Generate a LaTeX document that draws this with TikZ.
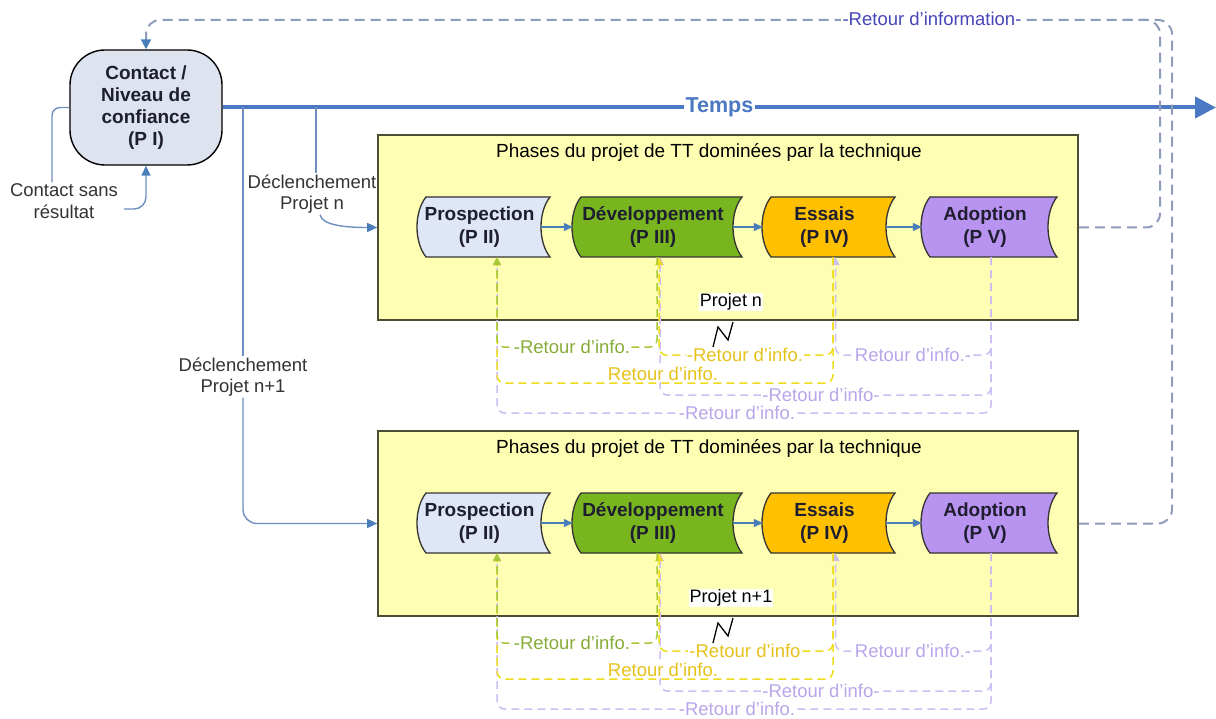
\documentclass[tikz,border=0pt]{standalone}
\usepackage{fontspec}
\setmainfont{Liberation Sans}
\usetikzlibrary{arrows.meta,calc}
\definecolor{tempsblue}{HTML}{4A78C2}
\definecolor{trigblue}{HTML}{6F8FC0}
\definecolor{arrowblue}{HTML}{4A7EBB}
\definecolor{contactfill}{HTML}{DEE3F0}
\definecolor{boxfill}{HTML}{FFFFB3}
\definecolor{boxborder}{HTML}{4D4D33}
\definecolor{prosfill}{HTML}{DFE6F5}
\definecolor{devfill}{HTML}{79B51F}
\definecolor{essfill}{HTML}{FFC000}
\definecolor{adofill}{HTML}{B894F0}
\definecolor{fbgreen}{HTML}{A6C83A}
\definecolor{fbgreentext}{HTML}{86AD3A}
\definecolor{fbyellow}{HTML}{EEDC1E}
\definecolor{fbyellowtext}{HTML}{E6C21A}
\definecolor{fbpurple}{HTML}{CDBDF2}
\definecolor{fbpurpletext}{HTML}{B9A6EA}
\definecolor{loopgray}{HTML}{8E9CBC}
\definecolor{infoblue}{HTML}{4646B8}
\definecolor{phasetextcol}{HTML}{1E1E30}
\definecolor{labelgray}{HTML}{333333}

\tikzset{
  every node/.style={font=\fontsize{18.5}{21.5}\selectfont, inner sep=1pt},
  contactbox/.style={draw=black, line width=1.4pt, fill=contactfill, rounded corners=35pt,
    minimum width=152pt, minimum height=115pt, align=center,
    font=\bfseries\fontsize{19}{22}\selectfont, text=phasetextcol},
  ybox/.style={draw=boxborder, line width=1.6pt, fill=boxfill, minimum width=700pt, minimum height=185pt},
  phaseshape/.style={draw=black!80, line width=1.3pt},
  phasetext/.style={align=center, font=\bfseries\fontsize{19}{23.5}\selectfont, text=phasetextcol},
  flow/.style={draw=arrowblue, line width=1.3pt, -{Triangle[length=9pt,width=8pt]}},
  trig/.style={draw=trigblue, line width=1.4pt},
  trigarrow/.style={trig, -{Triangle[length=10pt,width=9pt,color=arrowblue]}},
  fb/.style={dash pattern=on 8pt off 5pt, line width=1.5pt, rounded corners=8pt,
    -{Triangle[length=8pt,width=8pt]}},
  fblabel/.style={fill=white, inner sep=1pt},
  biglabel/.style={align=center, text=labelgray},
  loopline/.style={draw=loopgray, line width=2pt, dash pattern=on 10pt off 6pt, rounded corners=14pt},
}

\newcommand\phasenode[6]{%
  \filldraw[phaseshape, fill=#5] (#2+8,#4-30) -- (#3,#4-30)
    .. controls (#3-12,#4-15) and (#3-12,#4+15) .. (#3,#4+30) -- (#2+8,#4+30)
    .. controls (#2-4,#4+15) and (#2-4,#4-15) .. (#2+8,#4-30) -- cycle;
  \node[phasetext, minimum width={#3-#2-9}, minimum height=60pt] (#1) at ({(#2+#3-9)/2},#4) {#6};
}

\newcommand\phaseblock[4]{%
\begin{scope}[yshift=#2]
  \node[ybox] (box#1) at (728,227.5) {};
  \node[font=\fontsize{19}{22}\selectfont] (title#1) at (709,152) {Phases du projet de TT dominées par la technique};
  \phasenode{pro#1}{418}{550}{227}{prosfill}{Prospection\\(P II)}
  \phasenode{dev#1}{573}{742}{227}{devfill}{Développement\\(P III)}
  \phasenode{ess#1}{763}{895}{227}{essfill}{Essais\\(P IV)}
  \phasenode{ado#1}{922}{1057}{227}{adofill}{Adoption\\(P V)}
  \draw[flow] (pro#1.east) -- (dev#1.west);
  \draw[flow] (dev#1.east) -- (ess#1.west);
  \draw[flow] (ess#1.east) -- (ado#1.west);
  % feedback loops
  \draw[fb, draw=fbpurple] ([xshift=6pt]ado#1.south) -- ++(0,156) -| ([xshift=17.5pt]pro#1.south);
  \draw[fb, draw=fbpurple] ([xshift=6pt]ado#1.south) -- ++(0,138) -| ([xshift=7pt]dev#1.south);
  \draw[fb, draw=fbpurple] ([xshift=6pt]ado#1.south) -- ++(0,98) -| ([xshift=11pt]ess#1.south);
  \draw[fb, draw=fbyellow] ([xshift=8.5pt]ess#1.south) -- ++(0,126) -| ([xshift=17.5pt]pro#1.south);
  \draw[fb, draw=fbyellow] ([xshift=8.5pt]ess#1.south) -- ++(0,98) -| ([xshift=6pt]dev#1.south);
  \draw[fb, draw=fbgreen] ([xshift=4pt]dev#1.south) -- ++(0,90) -| ([xshift=17.5pt]pro#1.south);
  \node[fblabel, text=fbgreentext] (lg#1) at (572,347) {-Retour d’info.};
  \node[fblabel, text=fbyellowtext] (ly#1) at (745,355) {#4};
  \node[fblabel, text=fbpurpletext] (lp#1) at (913,355) {Retour d’info.-};
  \node[fblabel, text=fbyellowtext] (lyy#1) at (663,374) {Retour d’info.};
  \node[fblabel, text=fbpurpletext] (lpp#1) at (821,395) {-Retour d’info-};
  \node[fblabel, text=fbpurpletext] (lppp#1) at (737,413) {-Retour d’info.};
  % project label and zigzag
  \node[fill=white, font=\fontsize{18}{21}\selectfont] (proj#1) at (731,302) {#3};
  \draw[line width=1.3pt, black] (713,347) -- (718,327) -- (728,340) -- (733,322);
\end{scope}
}

\begin{document}
\begin{tikzpicture}[x=1pt, y=-1pt]
  \useasboundingbox (0,0) rectangle (1216,719);
  \fill[white] (0,0) rectangle (1216,719);

  \coordinate (tr1) at (1160,20);
  \coordinate (tr2) at (1172,20);

  \phaseblock{1}{0pt}{Projet n}{-Retour d’info.}
  \phaseblock{2}{-296pt}{Projet n+1}{-Retour d’info}

  % contact node
  \node[contactbox] (contact) at (146,107.5) {Contact /\\Niveau de\\confiance\\(P I)};

  % Temps axis
  \coordinate (tend) at (1216,107.5);
  \draw[draw=tempsblue, line width=4pt, -{Triangle[length=21pt,width=21pt]}] (contact.east) --
    node[fill=white, text=tempsblue, inner sep=2pt, font=\bfseries\fontsize{21.5}{24}\selectfont] (temps) {Temps} (tend);

  % big information feedback loops
  \draw[loopline] (box1.east) -| (tr1) -- ++(-40,0);
  \draw[loopline, -{Triangle[length=10pt,width=10pt,color=arrowblue]}] (box2.east) -| (tr2) -| (contact.north);
  \node[fill=white, text=infoblue, inner sep=2pt] (ri) at (932,19) {-Retour d’information-};

  % contact sans resultat
  \node[biglabel] (csr) at (64,201) {Contact sans\\résultat};
  \draw[trig, rounded corners=8pt] (contact.west) -| ([xshift=-12pt]csr.north);
  \draw[trigarrow, rounded corners=12pt] ([shift={(5,8)}]csr.east) -| (contact.south);

  % declenchement projet n
  \coordinate (j1) at (316,107.5);
  \node[biglabel] (dec1) at (312,194) {Déclenchement\\Projet n};
  \draw[trig] (j1) -- (j1 |- dec1.north);
  \draw[trigarrow] ([xshift=8pt]dec1.south) .. controls +(2,11) and +(-30,0) .. (box1.west);

  % declenchement projet n+1
  \coordinate (j2) at (243,107.5);
  \node[biglabel] (dec2) at (243,377) {Déclenchement\\Projet n+1};
  \draw[trig] (j2) -- (dec2.north);
  \draw[trigarrow, rounded corners=14pt] (dec2.south) |- (box2.west);
\end{tikzpicture}
\end{document}
